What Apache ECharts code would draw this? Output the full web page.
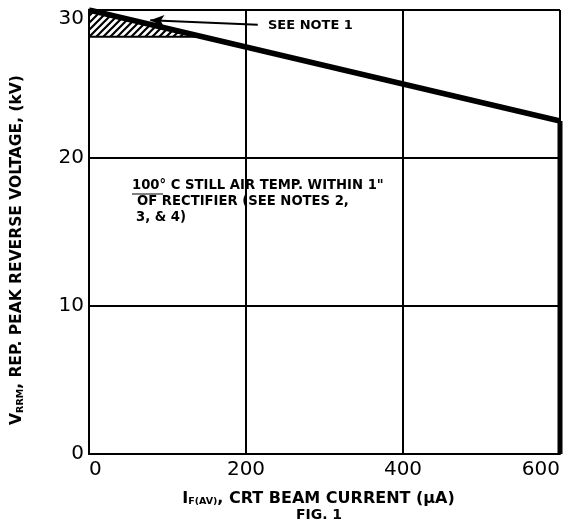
<!DOCTYPE html>
<html><head><meta charset="utf-8">
<script src="https://cdn.jsdelivr.net/npm/echarts@6/dist/echarts.min.js"></script>
<style>html,body{margin:0;background:#fff}#c{width:565px;height:529px}</style>
</head><body><div id="c"></div>
<script>
const xTicks = [0, 200, 400, 600];
const yTicks = [0, 10, 20, 30];
const ratingLine = [[0, 30], [600, 22.5]];
const hatchRegion = [[0, 30], [144, 28.2], [0, 28.2]];
const noteArrow = [[215, 29.0], [78, 29.3]];
const rightEdge = [[600, 0], [600, 22.5]];

const pc = document.createElement('canvas');
pc.width = 7; pc.height = 7;
const g = pc.getContext('2d');
g.strokeStyle = '#000'; g.lineWidth = 2.2;
g.beginPath();
g.moveTo(-1, 8); g.lineTo(8, -1);
g.moveTo(-4.5, 4.5); g.lineTo(4.5, -4.5);
g.moveTo(2.5, 11.5); g.lineTo(11.5, 2.5);
g.stroke();

const chart = echarts.init(document.getElementById('c'), null, {renderer: 'canvas'});
const font = '"DejaVu Sans", "Liberation Sans", Arial, sans-serif';
const richX = {
  m: {fontSize: 16, fontWeight: 'bold', fontFamily: font, color: '#000'},
  s: {fontSize: 9.5, fontWeight: 'bold', fontFamily: font, color: '#000', verticalAlign: 'bottom', padding: [7, 0, 0, 0]}
};
const richY = {
  m: {fontSize: 15.5, fontWeight: 'bold', fontFamily: font, color: '#000'},
  s: {fontSize: 9.5, fontWeight: 'bold', fontFamily: font, color: '#000', verticalAlign: 'bottom', padding: [7, 0, 0, 0]}
};
chart.setOption({
  animation: false,
  backgroundColor: '#fff',
  grid: {left: 89, right: 5, top: 10, bottom: 75, outerBoundsMode: 'none', containLabel: false},
  xAxis: {
    type: 'value', min: xTicks[0], max: xTicks[xTicks.length - 1], interval: 200,
    axisLine: {show: true, lineStyle: {color: '#000', width: 2}},
    axisTick: {show: false},
    splitLine: {show: true, lineStyle: {color: '#000', width: 2}},
    axisLabel: {color: '#000', fontSize: 20, fontFamily: font, margin: 6,
      alignMinLabel: 'left', alignMaxLabel: 'right'},
    name: '{m|I}{s|F(AV)}{m|, CRT BEAM CURRENT (μA)}',
    nameLocation: 'middle', nameGap: 36,
    nameTextStyle: {rich: richX, padding: [0, 12, 0, 0]}
  },
  yAxis: {
    type: 'value', min: yTicks[0], max: yTicks[yTicks.length - 1], interval: 10,
    axisLine: {show: true, lineStyle: {color: '#000', width: 2}},
    axisTick: {show: false},
    splitLine: {show: true, lineStyle: {color: '#000', width: 2}},
    axisLabel: {color: '#000', fontSize: 20, fontFamily: font, margin: 5, verticalAlign: 'middle',
      formatter: v => v === yTicks[yTicks.length - 1] ? '{t|' + v + '}' : '' + v,
      rich: {t: {fontSize: 20, fontFamily: font, color: '#000', padding: [18, 0, 0, 0]}}}
  },
  series: [
    {
      type: 'custom',
      data: [0],
      z: 3,
      renderItem: function (params, api) {
        const pts = hatchRegion.map(p => api.coord(p));
        return {type: 'polygon', shape: {points: pts},
          style: {fill: {image: pc, repeat: 'repeat'}, stroke: '#000', lineWidth: 2}};
      }
    },
    {
      type: 'line', data: ratingLine, symbol: 'none', z: 5,
      lineStyle: {color: '#000', width: 5.5},
      markLine: {
        silent: true, symbol: ['none', 'arrow'], symbolSize: [9, 14],
        label: {show: false},
        lineStyle: {color: '#000', width: 2, type: 'solid'},
        data: [[{coord: noteArrow[0]}, {coord: noteArrow[1]}]]
      }
    },
    {
      type: 'line', data: rightEdge, symbol: 'none', z: 4,
      lineStyle: {color: '#000', width: 5}
    }
  ],
  graphic: [
    {type: 'text', x: 17, y: 250, rotation: Math.PI / 2,
      style: {text: '{m|V}{s|RRM}{m|, REP. PEAK REVERSE VOLTAGE, (kV)}', rich: richY,
        align: 'center', verticalAlign: 'middle'}},
    {type: 'text', left: 268, top: 19, style: {text: 'SEE NOTE 1', font: 'bold 13px ' + font, fill: '#000'}},
    {type: 'text', left: 132, top: 179, style: {text: '100° C STILL AIR TEMP. WITHIN 1"', font: 'bold 13.2px ' + font, fill: '#000'}},
    {type: 'text', left: 137, top: 195, style: {text: 'OF RECTIFIER (SEE NOTES 2,', font: 'bold 13.2px ' + font, fill: '#000'}},
    {type: 'text', left: 136, top: 211, style: {text: '3, & 4)', font: 'bold 13.2px ' + font, fill: '#000'}},
    {type: 'line', shape: {x1: 132, y1: 194, x2: 163, y2: 194}, style: {stroke: '#000', lineWidth: 1}},
    {type: 'text', x: 319, y: 515, style: {text: 'FIG. 1', font: 'bold 14px ' + font, fill: '#000', align: 'center', verticalAlign: 'middle'}}
  ]
});
</script></body></html>
